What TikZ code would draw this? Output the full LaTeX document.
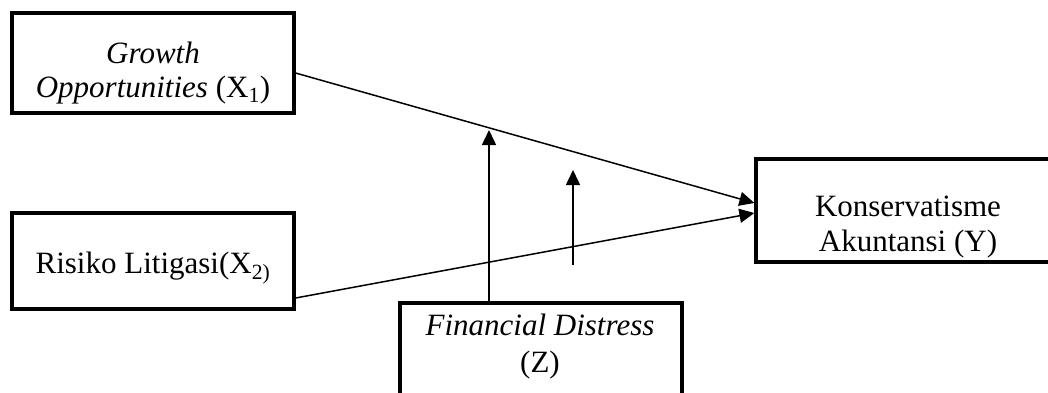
\documentclass[tikz,border=0pt]{standalone}
\usepackage{fontspec}
\setmainfont{Liberation Serif}
\usetikzlibrary{arrows.meta}
\begin{document}
\begin{tikzpicture}[x=1pt,y=-1pt,
  box/.style={draw, line width=3.2pt, inner sep=0pt},
  txt/.style={inner sep=0pt, anchor=base, font=\fontsize{31}{35}\selectfont},
  conn/.style={line width=1.5pt, -{Triangle[length=15pt,width=14pt]}}]
\useasboundingbox (0,0) rectangle (1048,392);
\clip (0,0) rectangle (1048,392);
\node[box, minimum width=282pt, minimum height=100pt] (G) at (153,63) {};
\node[box, minimum width=282pt, minimum height=96pt] (R) at (153,261) {};
\node[box, minimum width=282pt, minimum height=100pt] (Z) at (541,353) {};
\node[box, minimum width=310pt, minimum height=103pt] (Y) at (911,210.5) {};
\node[txt] (Gt1) at (153,63) {\textit{Growth}};
\node[txt] (Gt2) at (153,97) {\textit{Opportunities} (X\textsubscript{1})};
\node[txt] (Rt) at (153,273) {Risiko Litigasi(X\textsubscript{2)}};
\node[txt] (Yt1) at (908,216) {Konservatisme};
\node[txt] (Yt2) at (908,251) {Akuntansi (Y)};
\node[txt] (Zt1) at (540,335) {\textit{Financial Distress}};
\node[txt] (Zt2) at (540,372) {(Z)};
\coordinate (m1) at (489,130);
\coordinate (m2s) at (573,265);
\coordinate (m2) at (573,170);
\draw[conn] ([yshift=-10pt]G.east) -- ([yshift=7.5pt]Y.west);
\draw[conn] ([yshift=-37pt]R.east) -- ([yshift=-2.5pt]Y.west);
\draw[conn] ([xshift=-52pt]Z.north) -- (m1);
\draw[conn] (m2s) -- (m2);
\end{tikzpicture}
\end{document}
